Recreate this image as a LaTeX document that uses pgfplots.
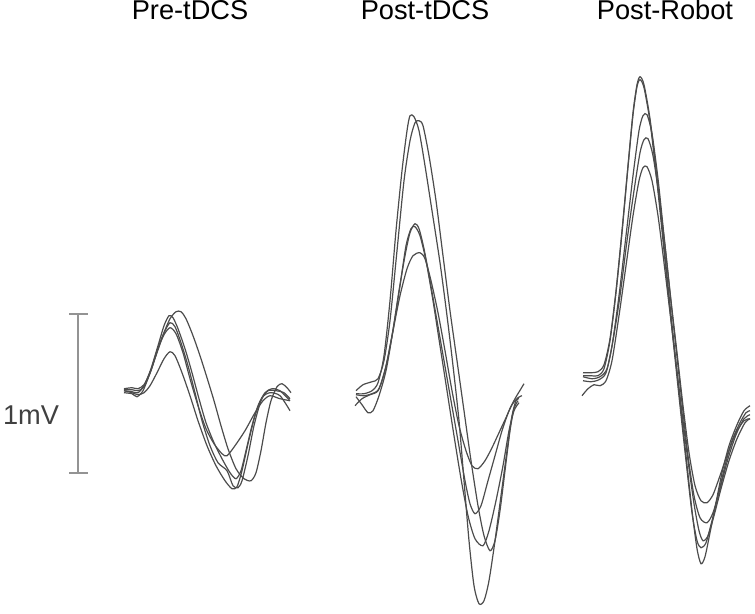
\documentclass[border=0pt]{standalone}
\usepackage{pgfplots}
\pgfplotsset{compat=1.18}
\usepackage{fontspec}
\setmainfont{Liberation Sans}
\begin{document}
\begin{tikzpicture}[
  trace/.style={black!70, line width=0.6pt, mark=none, solid, smooth, tension=0.45},
  bar/.style={gray!85, line width=0.9pt, mark=none, solid, sharp plot},
  lbl/.style={anchor=base, inner sep=0pt, font=\fontsize{13.6}{16}\selectfont},
]
\begin{axis}[
  width=377.5pt, height=306.5pt, scale only axis,
  xmin=0, xmax=755, ymin=0, ymax=613, y dir=reverse,
  hide axis, clip=false,
]
% Pre-tDCS
\addplot[trace] coordinates {(124,388) (132,387) (138,388) (144,384) (150,372) (157,352) (164,332) (170,318) (176,311) (181,311) (186,318) (193,335) (200,355) (207,377) (214,400) (221,425) (228,448) (236,468) (244,478) (251,480) (256,472) (261,450) (266,422) (271,400) (277,386) (282,383) (287,387) (291,392)};
\addplot[trace] coordinates {(124,390) (132,391) (138,392) (144,385) (151,368) (158,345) (164,325) (169,315) (173,317) (178,328) (185,348) (192,372) (199,398) (206,422) (214,442) (222,458) (230,472) (236,478) (241,470) (246,450) (252,425) (258,405) (265,392) (272,388) (280,390) (290,400)};
\addplot[trace] coordinates {(124,392) (132,393) (137,396) (143,390) (150,372) (157,350) (164,332) (170,322) (175,326) (181,342) (188,365) (195,392) (202,420) (210,445) (218,462) (227,470) (233,485) (238,487) (242,480) (248,455) (254,425) (261,400) (268,390) (276,390) (284,392) (290,398)};
\addplot[trace] coordinates {(124,390) (132,392) (138,394) (144,392) (150,385) (157,372) (164,358) (170,351) (175,355) (182,372) (190,395) (198,420) (207,445) (216,465) (225,480) (232,488) (237,486) (242,470) (248,443) (255,415) (262,397) (270,392) (280,395) (290,410)};
\addplot[trace] coordinates {(124,389) (132,389) (138,390) (144,386) (151,370) (158,348) (164,334) (170,327) (176,333) (183,352) (190,378) (198,405) (206,428) (214,443) (222,453) (227,455) (235,445) (245,430) (255,412) (263,400) (270,395) (280,398) (290,400)};
% Post-tDCS
\addplot[trace] coordinates {(356,393) (364,393) (372,390) (378,382) (384,355) (390,300) (396,230) (402,170) (407,130) (410,115) (414,116) (419,130) (425,165) (432,210) (440,262) (447,315) (453,365) (459,420) (464,480) (469,540) (474,585) (479,603) (484,600) (489,580) (495,540) (501,495) (507,450) (512,415) (516,400) (519,398)};
\addplot[trace] coordinates {(356,390) (363,384) (372,381) (378,378) (384,360) (390,320) (397,250) (404,180) (410,140) (415,122) (419,120) (423,125) (429,155) (436,200) (443,255) (450,310) (457,360) (464,410) (471,460) (478,505) (484,535) (490,550) (495,540) (500,510) (505,470) (510,430) (514,408) (518,400)};
\addplot[trace] coordinates {(355,405) (362,398) (370,394) (378,390) (385,370) (392,335) (399,290) (405,255) (410,232) (415,223) (419,228) (424,248) (430,280) (437,320) (444,360) (451,400) (458,440) (465,480) (470,503) (475,513) (481,505) (488,480) (495,455) (502,430) (509,410) (515,398) (521,388) (524,383)};
\addplot[trace] coordinates {(356,394) (364,395) (372,393) (379,388) (386,365) (393,330) (400,295) (407,268) (413,255) (420,252) (425,258) (431,280) (438,312) (445,350) (452,390) (459,425) (466,450) (472,465) (478,468) (485,460) (492,447) (499,432) (506,417) (512,404) (518,397) (522,395)};
\addplot[trace] coordinates {(356,396) (362,404) (368,412) (373,410) (379,395) (386,370) (393,330) (400,285) (406,245) (411,228) (415,226) (420,235) (426,260) (433,300) (440,345) (447,390) (454,435) (461,478) (468,515) (475,538) (483,545) (489,530) (496,500) (503,465) (509,430) (514,410) (519,402)};
% Post-Robot
\addplot[trace] coordinates {(583,372) (591,372) (598,371) (604,364) (610,338) (616,290) (622,230) (628,165) (633,112) (637,84) (640,76) (644,84) (650,118) (656,168) (662,225) (668,285) (674,343) (680,400) (686,455) (692,510) (697,548) (701,563) (705,556) (710,532) (716,502) (722,472) (729,445) (737,424) (744,410) (750,405)};
\addplot[trace] coordinates {(583,375) (591,375) (598,375) (604,368) (610,340) (616,292) (622,232) (628,166) (633,114) (637,86) (640,79) (644,87) (650,121) (656,172) (662,230) (668,290) (674,348) (680,405) (686,460) (692,512) (697,540) (701,547) (706,542) (712,520) (718,495) (725,465) (732,440) (740,422) (746,412) (750,410)};
\addplot[trace] coordinates {(583,380) (591,381) (599,379) (606,372) (612,345) (619,295) (626,235) (633,175) (639,130) (643,115) (647,114) (652,133) (658,178) (664,235) (670,292) (676,347) (682,402) (688,455) (694,495) (700,517) (707,522) (713,512) (720,488) (728,458) (736,434) (744,418) (750,414)};
\addplot[trace] coordinates {(583,376) (592,378) (600,376) (607,368) (613,340) (620,295) (627,240) (634,190) (640,152) (644,139) (648,138) (653,155) (659,195) (665,245) (671,300) (677,352) (683,405) (689,452) (695,485) (701,500) (707,502) (713,494) (720,475) (728,452) (736,432) (744,420) (750,418)};
\addplot[trace] coordinates {(582,395) (588,388) (594,384) (600,385) (606,380) (612,360) (619,315) (626,265) (633,215) (639,180) (643,167) (647,166) (652,180) (658,215) (664,262) (670,312) (676,362) (682,412) (688,460) (694,503) (699,530) (703,540) (708,535) (714,515) (721,488) (729,460) (737,438) (745,422) (750,418)};
% scale bar (1 mV)
\addplot[bar] coordinates {(69,313) (88,313)};
\addplot[bar] coordinates {(78,313) (78,472)};
\addplot[bar] coordinates {(69,472) (88,472)};
\node[lbl] at (axis cs:190,19) {Pre-tDCS};
\node[lbl] at (axis cs:425,19) {Post-tDCS};
\node[lbl] at (axis cs:665,19) {Post-Robot};
\node[lbl, text=black!75] at (axis cs:31,424) {1mV};
\path (axis cs:0,0) rectangle (axis cs:755,613);
\end{axis}
\end{tikzpicture}
\end{document}
